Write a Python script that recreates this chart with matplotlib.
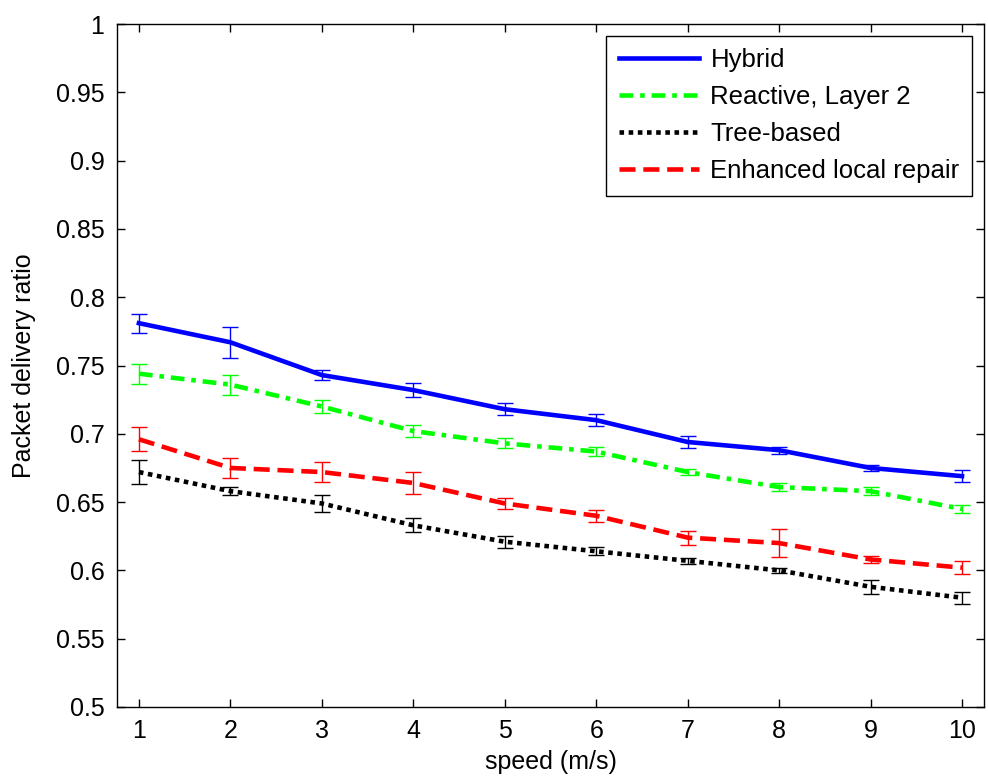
import numpy as np
import matplotlib
matplotlib.use('Agg')
import matplotlib.pyplot as plt

# data
speed = [1, 2, 3, 4, 5, 6, 7, 8, 9, 10]

hybrid = [0.781, 0.767, 0.743, 0.732, 0.718, 0.710, 0.694, 0.688, 0.675, 0.669]
hybrid_err = [0.007, 0.0115, 0.0035, 0.005, 0.0043, 0.0043, 0.0044, 0.0027, 0.002, 0.0043]

reactive = [0.744, 0.736, 0.720, 0.702, 0.693, 0.687, 0.672, 0.661, 0.658, 0.645]
reactive_err = [0.0074, 0.0074, 0.005, 0.0043, 0.0036, 0.0036, 0.0022, 0.003, 0.003, 0.0028]

tree = [0.672, 0.658, 0.649, 0.633, 0.621, 0.614, 0.607, 0.600, 0.588, 0.580]
tree_err = [0.0088, 0.003, 0.006, 0.005, 0.0043, 0.003, 0.002, 0.002, 0.005, 0.0044]

repair = [0.696, 0.675, 0.672, 0.664, 0.649, 0.640, 0.624, 0.620, 0.608, 0.602]
repair_err = [0.0087, 0.0074, 0.0074, 0.0078, 0.0043, 0.0044, 0.0051, 0.0103, 0.0026, 0.005]

labels = ['Hybrid', 'Reactive, Layer 2', 'Tree-based', 'Enhanced local repair']

plt.rcParams['font.family'] = ['Liberation Sans', 'DejaVu Sans']

fig = plt.figure(figsize=(9.88, 7.8), dpi=100)
ax = fig.add_axes([0.1184, 0.0936, 0.8775, 0.8756])

series = [
    (hybrid, hybrid_err, (0, 0, 1), '-'),
    (reactive, reactive_err, (0, 1, 0), (0, (3, 1.5, 1, 1.5))),
    (tree, tree_err, (0, 0, 0), (0, (1, 1))),
    (repair, repair_err, (1, 0, 0), (0, (3.5, 1.7))),
]

for (vals, err, col, ls), lab in zip(series, labels):
    # thin error bars first, thick line on top
    ax.errorbar(speed, vals, yerr=err, fmt='none', ecolor=col,
                elinewidth=1, capsize=6, capthick=1, zorder=2)
    ax.plot(speed, vals, color=col, linestyle=ls, linewidth=3.3,
            label=lab, zorder=3)

ax.set_xlim(0.76, 10.24)
ax.set_ylim(0.5, 1)
ax.set_xticks(speed)
ax.set_yticks(np.arange(0.5, 1.001, 0.05))
ax.set_yticklabels(['0.5', '0.55', '0.6', '0.65', '0.7', '0.75',
                    '0.8', '0.85', '0.9', '0.95', '1'])
ax.tick_params(direction='in', top=True, right=True, length=6,
               width=1, labelsize=18, pad=9)
for s in ax.spines.values():
    s.set_linewidth(1)

ax.set_xlabel('speed (m/s)', fontsize=18, labelpad=5)
ax.set_ylabel('Packet delivery ratio', fontsize=18, labelpad=14)

leg = ax.legend(loc='upper right', fontsize=18.5, handlelength=3.1,
                handletextpad=0.45, fancybox=False, framealpha=1,
                edgecolor='black', borderaxespad=0.45, labelspacing=0.5,
                borderpad=0.5)
leg.get_frame().set_linewidth(1)

fig.savefig('out.png', dpi=100)
